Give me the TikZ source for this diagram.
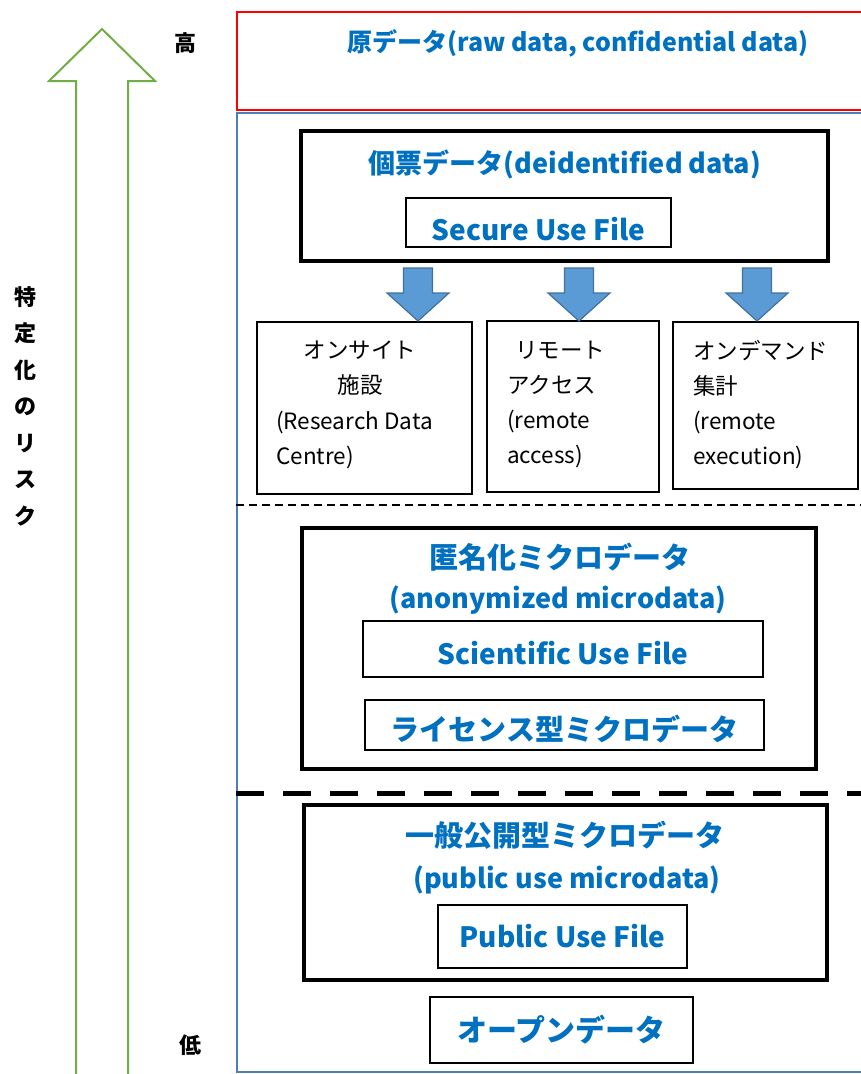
\documentclass[tikz,border=0pt]{standalone}
\usepackage{fontspec}
\setmainfont{Noto Sans CJK JP}
\usepackage{tikz}
\usetikzlibrary{shapes,positioning,calc}
\definecolor{titleblue}{HTML}{0070C0}
\definecolor{zoneblue}{HTML}{4F7DB5}
\definecolor{arrowfill}{HTML}{5B9BD5}
\definecolor{arrowline}{HTML}{41719C}
\definecolor{riskgreen}{HTML}{70AD47}
\tikzstyle{bigbox} = [rectangle, draw=black, line width=4pt, inner sep=0pt]
\tikzstyle{filebox} = [rectangle, draw=black, line width=2pt, inner sep=0pt]
\tikzstyle{filetext} = [text=titleblue, font=\bfseries\fontsize{28}{30}\selectfont, inner sep=0pt]
\tikzstyle{svcbox} = [rectangle, draw=black, line width=2pt, inner sep=0pt]
\tikzstyle{title} = [text=titleblue, font=\bfseries\fontsize{27}{30}\selectfont, inner sep=0pt]
\tikzstyle{jtitle} = [text=titleblue, font=\bfseries\fontsize{29}{30}\selectfont, inner sep=0pt]
\tikzstyle{svctext} = [align=left, font=\fontsize{22.5}{35}\selectfont, inner sep=0pt, anchor=north west]
\tikzstyle{blockarr} = [fill=arrowfill, draw=arrowline, line width=1.2pt, line join=miter]
\tikzstyle{level} = [font=\bfseries\fontsize{22}{26}\selectfont, inner sep=0pt]

\begin{document}
\begin{tikzpicture}[x=1pt,y=-1pt]
\useasboundingbox (0,0) rectangle (860,1074);
% risk scale
\draw[riskgreen, line width=2pt, line join=miter] (102,29) -- (155,81) -- (128,81) -- (128,1090) -- (76,1090) -- (76,81) -- (49,81) -- cycle;
\node[level] (hi) at (185,43) {高};
\node[level] (lo) at (190,1045) {低};
\node[level, align=center, font=\bfseries\fontsize{22}{36.5}\selectfont] (risk) at (25,406) {特\\定\\化\\の\\リ\\ス\\ク};
% zones
\node[rectangle, draw=red, line width=2pt, minimum width=640pt, minimum height=98pt] (raw) at (557,61) {};
\node[title, font=\bfseries\fontsize{25}{30}\selectfont] (rawt) at (578,43) {原データ(raw data, confidential data)};
\node[rectangle, draw=zoneblue, line width=1.5pt, minimum width=640pt, minimum height=959pt] (zone) at (557,592.5) {};
% deidentified data
\node[bigbox, minimum width=527pt, minimum height=130pt] (kohyo) at (564.5,196) {};
\node[title] (kohyot) at (565,164) {個票データ(deidentified data)};
\node[filebox, minimum width=265pt, minimum height=49pt] (suf) at (538.5,222.5) {};
\node[filetext] (suft) at ([yshift=-7pt]suf.center) {Secure Use File};
\node[svcbox, minimum width=215pt, minimum height=172pt] (onsite) at (364.5,408) {};
\node[svcbox, minimum width=172pt, minimum height=171pt] (remote) at (573,406.5) {};
\node[svcbox, minimum width=185pt, minimum height=167pt] (ondemand) at (765.5,405.5) {};
\foreach \x in {418,579,757}
  \draw[blockarr] (\x-14.5,268) -- (\x+14.5,268) -- (\x+14.5,293) -- (\x+31,293) -- (\x,321) -- (\x-31,293) -- (\x-14.5,293) -- cycle;
\node[svctext, align=center, anchor=north] (onsitet) at (360,341) {オンサイト\\施設};
\node[svctext] (onsitee) at (276,411) {(Research Data\\Centre)};
\node[svctext] (remotet) at (507,341) {\hspace{8pt}リモート\\アクセス\\(remote\\access)};
\node[svctext] (ondemandt) at (693,340) {オンデマンド\\集計\\(remote\\execution)};
\draw[line width=1.5pt, dash pattern=on 8pt off 5pt] (zone.west |- 0,505) -- (870,505);
% anonymized microdata
\node[bigbox, minimum width=514pt, minimum height=241pt] (tokumei) at (559,648) {};
\node[jtitle] (tokumeit) at (560,557) {匿名化ミクロデータ};
\node[title] (tokumeie) at (558,600) {(anonymized microdata)};
\node[filebox, minimum width=400pt, minimum height=56pt] (sci) at (563,649) {};
\node[filetext] (scit) at ([yshift=-4pt]sci.center) {Scientific Use File};
\node[filebox, minimum width=399pt, minimum height=50pt] (lic) at (564.5,725) {};
\node[jtitle] (lict) at ([yshift=-4pt]lic.center) {ライセンス型ミクロデータ};
\draw[line width=5pt, dash pattern=on 28pt off 19pt] (zone.west |- 0,793) -- (870,793);
% public use microdata
\node[bigbox, minimum width=523pt, minimum height=175pt] (ippan) at (565.5,892.5) {};
\node[jtitle] (ippant) at (565,835) {一般公開型ミクロデータ};
\node[title] (ippane) at (567,880) {(public use microdata)};
\node[filebox, minimum width=249pt, minimum height=63pt] (puf) at (562.5,936.5) {};
\node[filetext] (puft) at (puf.center) {Public Use File};
\node[filebox, minimum width=263pt, minimum height=66pt] (open) at (561.5,1030) {};
\node[jtitle, font=\bfseries\fontsize{30}{30}\selectfont] (opent) at (open.center) {オープンデータ};
\end{tikzpicture}
\end{document}
